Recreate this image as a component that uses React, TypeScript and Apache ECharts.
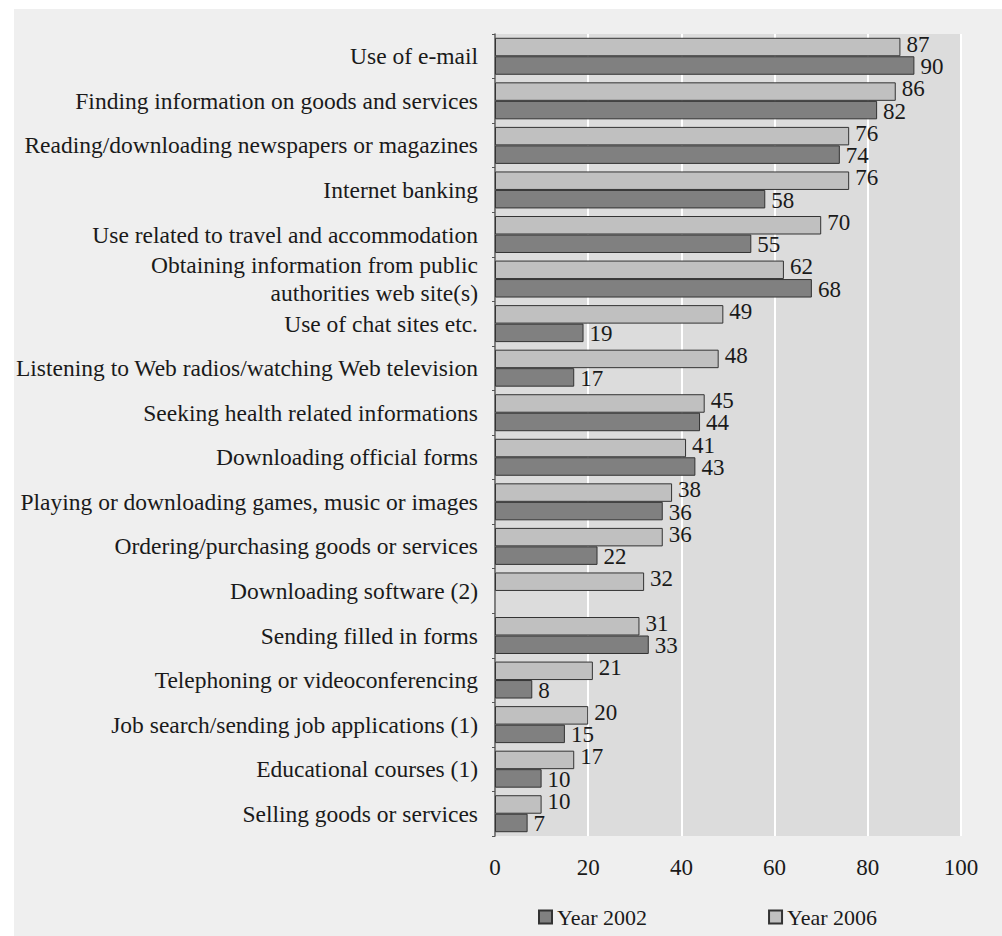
import React, { useEffect, useRef } from "react";
import * as echarts from "echarts";

const categories = [
  "Use of e-mail",
  "Finding information on goods and services",
  "Reading/downloading newspapers or magazines",
  "Internet banking",
  "Use related to travel and accommodation",
  "Obtaining information from public\nauthorities web site(s)",
  "Use of chat sites etc.",
  "Listening to Web radios/watching Web television",
  "Seeking health related informations",
  "Downloading official forms",
  "Playing or downloading games, music or images",
  "Ordering/purchasing goods or services",
  "Downloading software (2)",
  "Sending filled in forms",
  "Telephoning or videoconferencing",
  "Job search/sending job applications (1)",
  "Educational courses (1)",
  "Selling goods or services",
];

const year2006 = [87, 86, 76, 76, 70, 62, 49, 48, 45, 41, 38, 36, 32, 31, 21, 20, 17, 10];
const year2002: (number | null)[] = [90, 82, 74, 58, 55, 68, 19, 17, 44, 43, 36, 22, null, 33, 8, 15, 10, 7];

const xTicks = [0, 20, 40, 60, 80, 100];

const FONT = '"Liberation Serif", "Times New Roman", serif';

export default function App() {
  const ref = useRef<HTMLDivElement>(null);
  useEffect(() => {
    if (!ref.current) return;
    const chart = echarts.init(ref.current, null, { renderer: "svg" });
    const labelStyle = {
      show: true,
      position: "right" as const,
      distance: 6,
      fontFamily: FONT,
      fontSize: 23,
      color: "#1a1a1a",
    };
    chart.setOption({
      animation: false,
      backgroundColor: "#efefef",
      textStyle: { fontFamily: FONT },
      graphic: [
        { type: "rect", shape: { x: 0, y: 0, width: 1002, height: 9 }, style: { fill: "#ffffff" }, z: 100 },
        { type: "rect", shape: { x: 0, y: 0, width: 14, height: 936 }, style: { fill: "#ffffff" }, z: 100 },
      ],
      grid: {
        left: 495,
        right: 41,
        top: 34,
        bottom: 100,
        show: true,
        backgroundColor: "#dcdcdc",
        borderWidth: 0,
      },
      legend: {
        left: 533,
        top: 901,
        icon: "rect",
        itemWidth: 13,
        itemHeight: 13,
        itemGap: 121,
        textStyle: { fontFamily: FONT, fontSize: 22, color: "#1a1a1a" },
        data: ["Year 2002", "Year 2006"],
      },
      xAxis: {
        type: "value",
        min: xTicks[0],
        max: xTicks[xTicks.length - 1],
        interval: 20,
        axisLine: { show: false },
        axisTick: { show: false },
        axisLabel: { fontFamily: FONT, fontSize: 23, color: "#1a1a1a", margin: 20 },
        splitLine: { show: true, lineStyle: { color: "#ffffff", width: 2 } },
      },
      yAxis: {
        type: "category",
        data: categories,
        inverse: true,
        axisLine: { show: true, lineStyle: { color: "#555555", width: 1.5 } },
        axisTick: { show: true, length: 3, lineStyle: { color: "#555555" } },
        axisLabel: {
          fontFamily: FONT,
          fontSize: 23.5,
          color: "#1a1a1a",
          margin: 17,
          lineHeight: 28,
        },
        splitLine: { show: false },
      },
      series: [
        {
          name: "Year 2006",
          type: "bar",
          data: year2006,
          barCategoryGap: "17%",
          barGap: "0%",
          itemStyle: { color: "#c0c0c0", borderColor: "#333333", borderWidth: 1 },
          label: { ...labelStyle, offset: [0, -3] },
        },
        {
          name: "Year 2002",
          type: "bar",
          data: year2002,
          barCategoryGap: "17%",
          barGap: "0%",
          itemStyle: { color: "#808080", borderColor: "#333333", borderWidth: 1 },
          label: { ...labelStyle, offset: [0, 1] },
        },
      ],
    });
    return () => chart.dispose();
  }, []);
  return (
    <div
      ref={ref}
      style={{ position: "fixed", left: 0, top: 0, width: 1002, height: 936 }}
    />
  );
}
